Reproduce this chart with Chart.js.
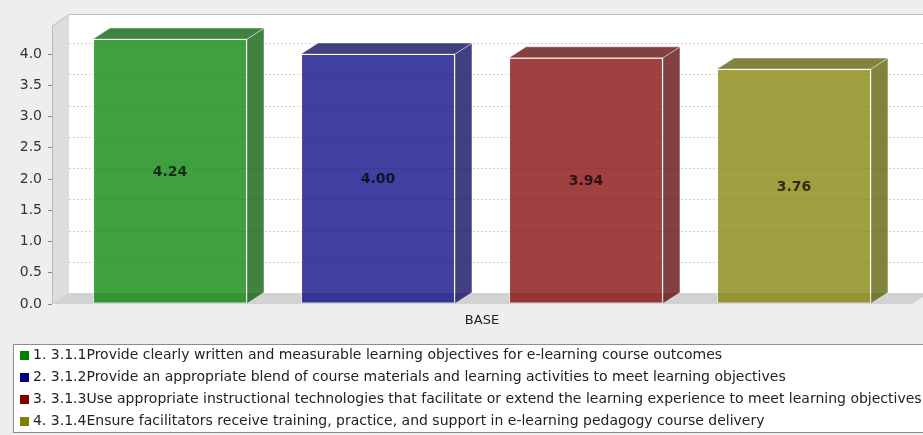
<!DOCTYPE html>
<html>
<head>
<meta charset="utf-8">
<style>
  html, body { margin: 0; padding: 0; background: #eeeeee; }
  #wrap { width: 923px; height: 435px; }
</style>
<script src="https://cdn.jsdelivr.net/npm/chart.js@4.4.1/dist/chart.umd.min.js"></script>
</head>
<body>
<div id="wrap"><canvas id="chart" width="923" height="435"></canvas></div>
<script>
const categories = ['BASE'];
const seriesLabels = [
    '1. 3.1.1Provide clearly written and measurable learning objectives for e-learning course outcomes',
    '2. 3.1.2Provide an appropriate blend of course materials and learning activities to meet learning objectives',
    '3. 3.1.3Use appropriate instructional technologies that facilitate or extend the learning experience to meet learning objectives',
    '4. 3.1.4Ensure facilitators receive training, practice, and support in e-learning pedagogy course delivery'
];
const seriesValues = [4.24, 4.00, 3.94, 3.76];
const yTicks = [0, 0.5, 1.0, 1.5, 2.0, 2.5, 3.0, 3.5, 4.0];

// base colours (JFreeChart-like), drawn with alpha
const baseColors = [[0, 128, 0], [0, 0, 128], [128, 0, 0], [128, 128, 0]];
const DX = 17, DY = 11;
const FONT = '"DejaVu Sans", sans-serif';

function rgba(c, a) { return `rgba(${c[0]},${c[1]},${c[2]},${a})`; }
function darker(c) { return c.map(v => Math.floor(v * 0.7)); }

const threeD = {
    id: 'threeD',
    beforeDraw(chart) {
        const ctx = chart.ctx;
        const a = chart.chartArea;
        ctx.save();
        ctx.fillStyle = '#eeeeee';
        ctx.fillRect(0, 0, chart.width, chart.height);

        // back wall
        ctx.fillStyle = '#ffffff';
        ctx.fillRect(a.left + DX, a.top - DY, a.right - a.left + 20, a.bottom - a.top);

        // left wall
        ctx.fillStyle = '#dddddd';
        ctx.beginPath();
        ctx.moveTo(a.left, a.top);
        ctx.lineTo(a.left + DX, a.top - DY);
        ctx.lineTo(a.left + DX, a.bottom - DY);
        ctx.lineTo(a.left, a.bottom);
        ctx.closePath();
        ctx.fill();

        // floor
        ctx.fillStyle = '#d2d2d2';
        ctx.beginPath();
        ctx.moveTo(a.left, a.bottom);
        ctx.lineTo(a.left + DX, a.bottom - DY);
        ctx.lineTo(a.right + DX, a.bottom - DY);
        ctx.lineTo(a.right, a.bottom);
        ctx.closePath();
        ctx.fill();

        // outline
        ctx.strokeStyle = '#bcbcbc';
        ctx.lineWidth = 1;
        ctx.beginPath();
        ctx.moveTo(a.left + 0.5, a.bottom);
        ctx.lineTo(a.left + 0.5, a.top);
        ctx.lineTo(a.left + DX, a.top - DY - 0.5);
        ctx.lineTo(chart.width, a.top - DY - 0.5);
        ctx.stroke();

        // gridlines on back wall
        const y = chart.scales.y;
        ctx.strokeStyle = '#d2d2d2';
        ctx.setLineDash([2, 2]);
        yTicks.forEach(v => {
            if (v === 0) return;
            const py = Math.round(y.getPixelForValue(v) - DY) + 0.5;
            ctx.beginPath();
            ctx.moveTo(a.left + DX, py);
            ctx.lineTo(chart.width, py);
            ctx.stroke();
        });
        ctx.restore();
    },
    afterDatasetsDraw(chart) {
        const ctx = chart.ctx;
        ctx.save();
        chart.data.datasets.forEach((ds, i) => {
            const bar = chart.getDatasetMeta(i).data[0];
            const p = bar.getProps(['x', 'y', 'base', 'width'], true);
            const l = p.x - p.width / 2, r = p.x + p.width / 2;
            const dark = rgba(darker(baseColors[i]), 0.75);
            ctx.fillStyle = dark;
            ctx.strokeStyle = 'rgba(255,255,255,0.4)';
            ctx.lineWidth = 1;
            // side face
            ctx.beginPath();
            ctx.moveTo(r, p.y);
            ctx.lineTo(r + DX, p.y - DY);
            ctx.lineTo(r + DX, p.base - DY);
            ctx.lineTo(r, p.base);
            ctx.closePath();
            ctx.fill();
            ctx.stroke();
            // top face
            ctx.beginPath();
            ctx.moveTo(l, p.y);
            ctx.lineTo(l + DX, p.y - DY);
            ctx.lineTo(r + DX, p.y - DY);
            ctx.lineTo(r, p.y);
            ctx.closePath();
            ctx.fill();
            ctx.stroke();
            // value label
            ctx.fillStyle = 'rgba(0,0,0,0.72)';
            ctx.font = 'bold 14px ' + FONT;
            ctx.textAlign = 'center';
            ctx.textBaseline = 'middle';
            ctx.fillText(ds.data[0].toFixed(2), p.x, (p.y + p.base) / 2 + 1);
        });
        ctx.restore();
    },
    afterDraw(chart) {
        // legend box
        const ctx = chart.ctx;
        ctx.save();
        ctx.fillStyle = '#ffffff';
        ctx.fillRect(13.5, 344.5, chart.width, 88);
        ctx.strokeStyle = '#8c8c8c';
        ctx.lineWidth = 1;
        ctx.strokeRect(13.5, 344.5, chart.width, 88);
        ctx.font = '14px ' + FONT;
        ctx.textAlign = 'left';
        ctx.textBaseline = 'middle';
        chart.data.datasets.forEach((ds, i) => {
            const cy = 355.5 + i * 22;
            ctx.fillStyle = rgba(baseColors[i], 1);
            ctx.fillRect(20, Math.round(cy - 4.5), 9, 9);
            ctx.fillStyle = '#222222';
            ctx.fillText(ds.label, 33, cy);
        });
        ctx.restore();
    }
};

new Chart(document.getElementById('chart'), {
    type: 'bar',
    data: {
        labels: categories,
        datasets: seriesLabels.map((label, i) => ({
            label: label,
            data: [seriesValues[i]],
            backgroundColor: rgba(baseColors[i], 0.75),
            borderColor: 'rgba(255,255,255,0.4)',
            borderWidth: 1,
            borderSkipped: false
        }))
    },
    options: {
        responsive: false,
        animation: false,
        layout: { padding: { top: 26, right: 11, bottom: 102, left: 0 } },
        plugins: {
            legend: { display: false },
            tooltip: { enabled: false }
        },
        datasets: {
            bar: { categoryPercentage: 0.9674, barPercentage: 0.74 }
        },
        scales: {
            x: {
                grid: { display: false },
                border: { display: false },
                ticks: { color: '#222222', font: { family: FONT, size: 13 }, padding: 1 },
                afterFit: s => { s.height = 29; }
            },
            y: {
                min: 0,
                max: 4.45,
                afterBuildTicks: s => { s.ticks = yTicks.map(v => ({ value: v })); },
                grid: { drawOnChartArea: false, drawTicks: true, tickLength: 4, color: '#888888' },
                border: { display: false },
                ticks: {
                    color: '#333333',
                    font: { family: FONT, size: 14 },
                    padding: 6,
                    callback: v => v.toFixed(1)
                },
                afterFit: s => { s.width = 52; }
            }
        }
    },
    plugins: [threeD]
});
</script>
</body>
</html>
